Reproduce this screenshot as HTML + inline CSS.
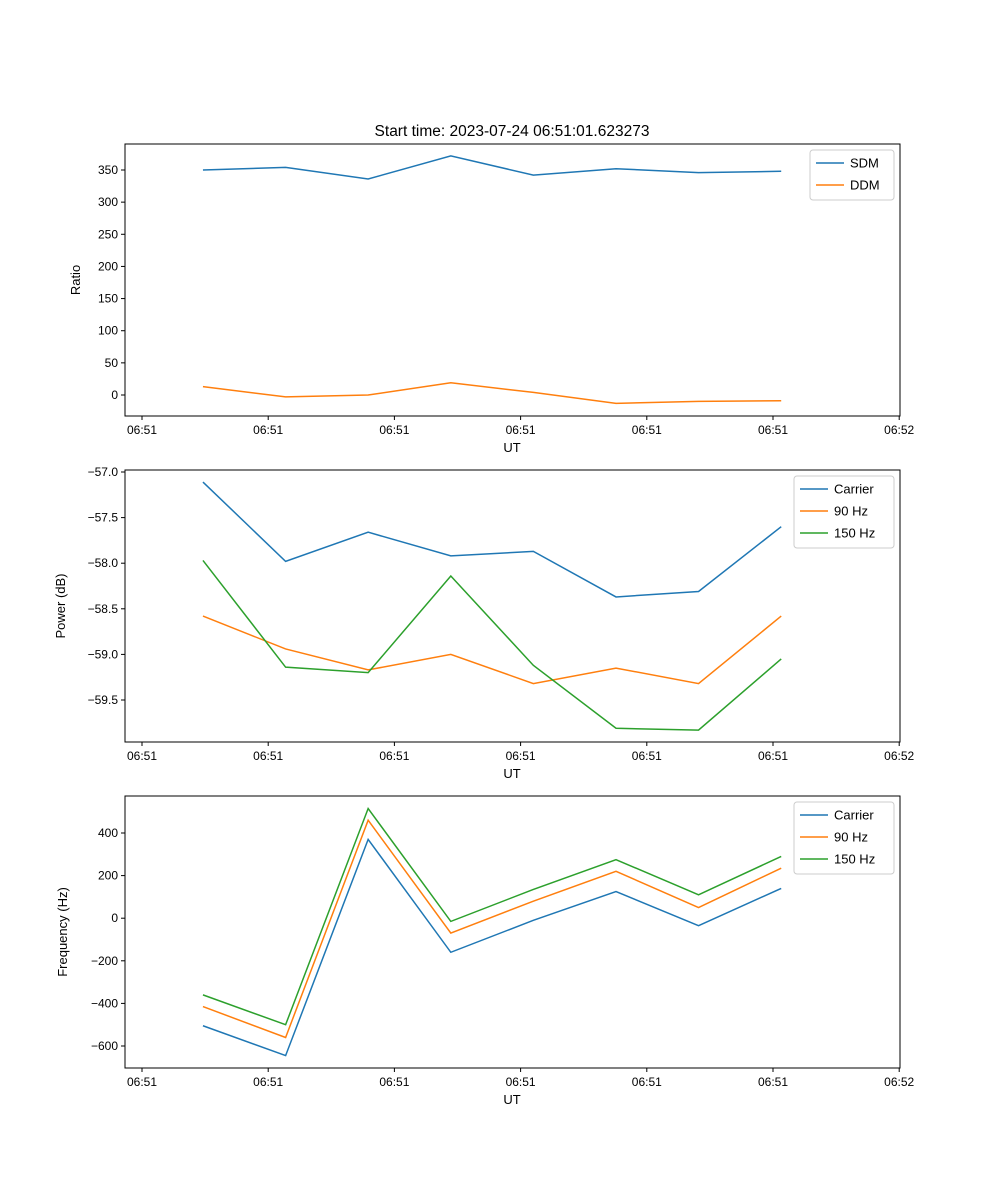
<!DOCTYPE html>
<html><head><meta charset="utf-8"><style>
body{margin:0;background:#fff}svg{display:block;font-family:"Liberation Sans","DejaVu Sans",sans-serif}
</style></head><body>
<svg id="fig" width="1000" height="1200"></svg>
<script>
const times=[0.483,1.138,1.792,2.447,3.101,3.756,4.410,5.065];
const xTickLabels=["06:51","06:51","06:51","06:51","06:51","06:51","06:52"];
const sdm=[350,354,336,372,342,352,346,348];
const ddm=[13,-3,0,19,4,-13,-10,-9];
const pCarrier=[-57.11,-57.98,-57.66,-57.92,-57.87,-58.37,-58.31,-57.60];
const p90=[-58.58,-58.94,-59.17,-59.00,-59.32,-59.15,-59.32,-58.58];
const p150=[-57.97,-59.14,-59.20,-58.14,-59.12,-59.81,-59.83,-59.05];
const fCarrier=[-505,-645,370,-160,-10,125,-35,140];
const f90=[-415,-560,460,-70,80,220,50,235];
const f150=[-360,-500,515,-15,135,275,110,290];
const ticks1=[0,50,100,150,200,250,300,350];
const ticks2=[-57.0,-57.5,-58.0,-58.5,-59.0,-59.5];
const ticks3=[400,200,0,-200,-400,-600];
const NS="http://www.w3.org/2000/svg",svg=document.getElementById('fig');
function el(t,a,p){const e=document.createElementNS(NS,t);for(const k in a)e.setAttribute(k,a[k]);(p||svg).appendChild(e);return e;}
const X0=125,X1=900,xs=t=>142+t*126.2;
function panel(top,name,ylab,yv0,yp0,yv1,yp1,ticks,fmt,series,ylx,lw){
  const g=el('g',{});
  
  
  const ys=v=>yp0+(v-yv0)*(yp1-yp0)/(yv1-yv0);
  const bot=top+272;
  ticks.forEach(v=>{const y=ys(v);el('line',{x1:X0-4,x2:X0,y1:y,y2:y,stroke:'#000'},g);
    const t=el('text',{x:X0-7,y:y+4,'text-anchor':'end','font-size':12},g);t.textContent=fmt(v);
    });
  xTickLabels.forEach((l,i)=>{const x=xs(i);el('line',{x1:x,x2:x,y1:bot,y2:bot+4,stroke:'#000'},g);
    const t=el('text',{x:x,y:bot+18,'text-anchor':'middle','font-size':12},g);t.textContent=l;
    });
  const xl=el('text',{x:512,y:bot+36,'text-anchor':'middle','font-size':13},g);xl.textContent='UT';
  
  const yl=el('text',{x:0,y:0,'text-anchor':'middle','font-size':13},g);
  yl.setAttribute('transform',`translate(${ylx},${top+136}) rotate(-90)`);
  yl.textContent=ylab;
  series.forEach(s=>{const p=el('polyline',{points:s.d.map((v,i)=>xs(times[i])+','+ys(v)).join(' '),fill:'none',stroke:s.c,'stroke-width':1.5},g);
    });
  el('rect',{x:X0,y:top,width:X1-X0,height:272,fill:'none',stroke:'#000','stroke-width':1},g);
  const lh=series.length*22+6,lx=X1-6-lw;
  const lg=el('g',{},g);
  el('rect',{x:lx,y:top+6,width:lw,height:lh,rx:3,fill:'#fff',stroke:'#ccc'},lg);
  series.forEach((s,i)=>{const y=top+19+i*22;el('line',{x1:lx+6,x2:lx+34,y1:y,y2:y,stroke:s.c,'stroke-width':1.5},lg);
    const t=el('text',{x:lx+40,y:y+4.5,'font-size':13},lg);t.textContent=s.n;
    });
}
const C1='#1f77b4',C2='#ff7f0e',C3='#2ca02c';
const tt=el('text',{x:512,y:136,'text-anchor':'middle','font-size':15.5});tt.textContent='Start time: 2023-07-24 06:51:01.623273';

panel(144,'ratio','Ratio',350,170,0,395,ticks1,v=>String(v),[{n:'SDM',d:sdm,c:C1},{n:'DDM',d:ddm,c:C2}],80,84);
panel(470,'power','Power (dB)',-57,472,-59.5,700,ticks2,v=>'\u2212'+Math.abs(v).toFixed(1),[{n:'Carrier',d:pCarrier,c:C1},{n:'90 Hz',d:p90,c:C2},{n:'150 Hz',d:p150,c:C3}],65,100);
panel(796,'frequency','Frequency (Hz)',400,833,-600,1046,ticks3,v=>v<0?'\u2212'+(-v):String(v),[{n:'Carrier',d:fCarrier,c:C1},{n:'90 Hz',d:f90,c:C2},{n:'150 Hz',d:f150,c:C3}],67,100);
</script></body></html>
